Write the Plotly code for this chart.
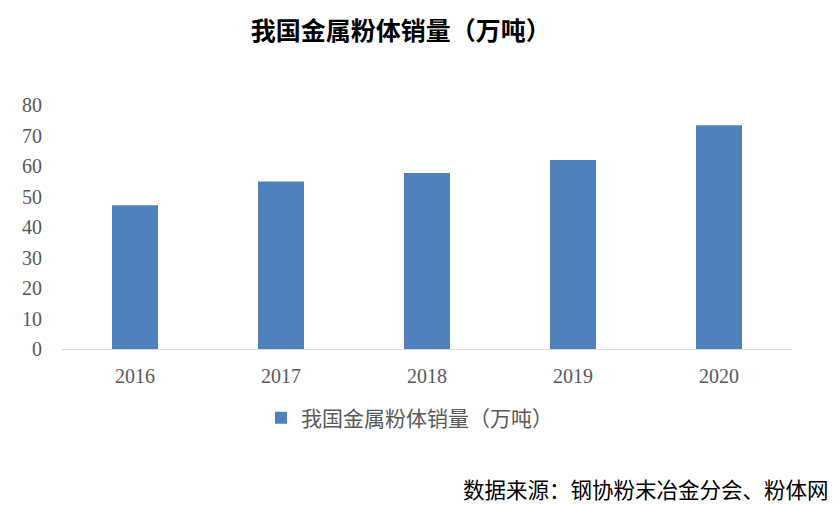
import plotly.graph_objects as go

years = ["2016", "2017", "2018", "2019", "2020"]
sales = [47.1, 54.9, 57.7, 62.0, 73.4]
series_name = "我国金属粉体销量（万吨）"
title_text = "我国金属粉体销量（万吨）"
source_text = "数据来源：钢协粉末冶金分会、粉体网"
y_ticks = [0, 10, 20, 30, 40, 50, 60, 70, 80]

W, H = 831, 497  # page adds an 8px body margin

fig = go.Figure()
fig.add_trace(go.Bar(
    x=years, y=sales, name=series_name,
    marker=dict(color="#4f81bd", line=dict(width=0)),
    width=0.315, showlegend=True,
))

fig.update_layout(
    width=W, height=H,
    margin=dict(l=54, r=47, t=97, b=156),
    plot_bgcolor="white", paper_bgcolor="white",
    showlegend=True,
    title=dict(text=title_text, x=0.464, xref="paper", xanchor="center",
               y=1 - 23 / H, yref="container", yanchor="middle",
               font=dict(family="Noto Sans CJK SC", size=25, color="#000000", weight="bold")),
    legend=dict(orientation="h", x=0.476, xanchor="center", y=-0.283, yanchor="middle",
                font=dict(family="Noto Sans CJK SC", size=21, color="#595959"),
                itemwidth=30, itemsizing="constant"),
    xaxis=dict(type="category", showline=True, linecolor="#d9d9d9", linewidth=1,
               ticks="outside", ticklen=9, tickcolor="rgba(0,0,0,0)",
               tickfont=dict(family="Liberation Serif", size=20, color="#595959"),
               showgrid=False, zeroline=False),
    yaxis=dict(range=[0, 80], tickvals=y_ticks, showgrid=False, zeroline=False,
               showline=False, ticks="outside", ticklen=15, tickcolor="rgba(0,0,0,0)",
               tickfont=dict(family="Liberation Serif", size=20, color="#595959")),
    annotations=[dict(text=source_text, xref="paper", yref="paper",
                      x=1.054, xanchor="right", y=-0.57, yanchor="middle",
                      showarrow=False,
                      font=dict(family="Noto Sans CJK SC", size=21.5, color="#000000"))],
)

fig.write_html("out.html")
